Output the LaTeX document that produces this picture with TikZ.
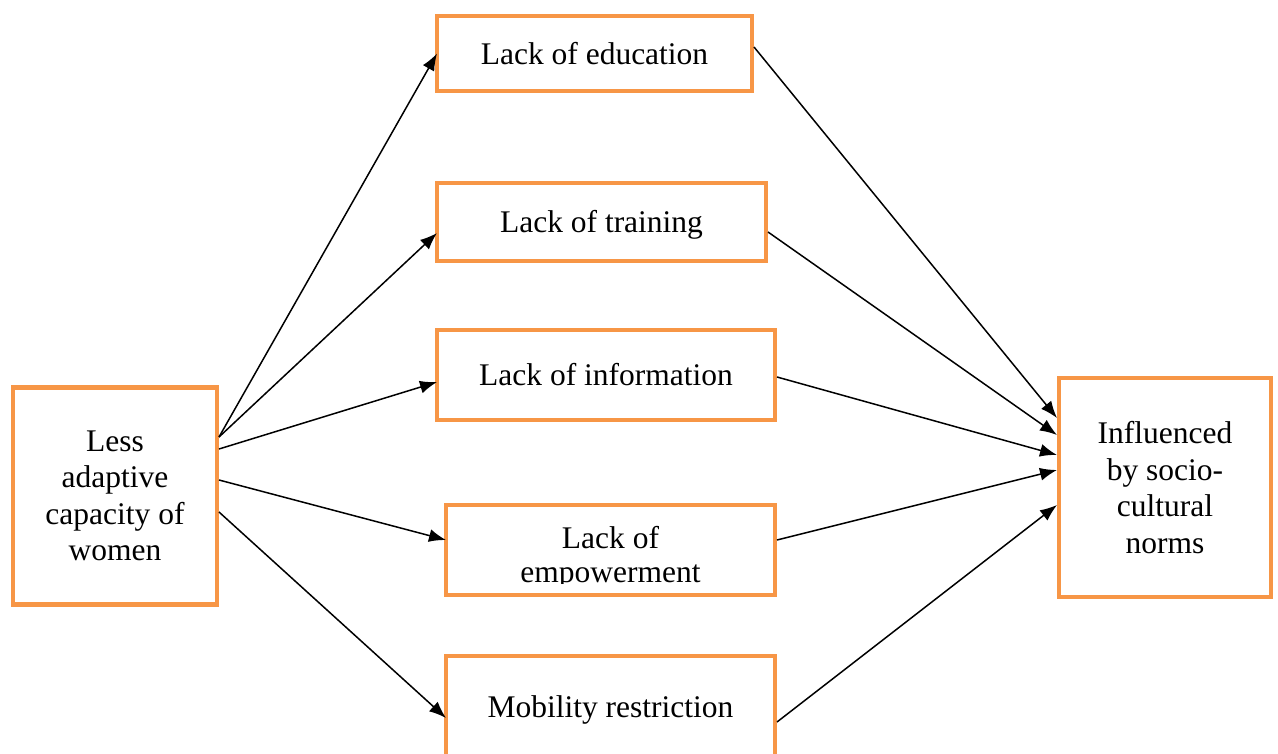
\documentclass[tikz,border=0pt]{standalone}
\usepackage{fontspec}
\setmainfont{Liberation Serif}
\usetikzlibrary{arrows.meta}
\definecolor{boxorange}{HTML}{F79646}
\begin{document}
\begin{tikzpicture}[x=1pt,y=-1pt,
  box/.style={draw=boxorange,line width=4.5pt,rectangle,inner sep=0pt,outer sep=0pt,align=center,
    font=\fontsize{31.5}{36.5}\selectfont},
  oneline/.style={text height=28.5pt,text depth=7pt},
  conn/.style={line width=1.5pt,-{Latex[length=17pt,width=13pt]}}]
\useasboundingbox (0,0) rectangle (1278,754);
\node[box,minimum width=204pt,minimum height=217pt] (L) at (115,496) {Less\\adaptive\\capacity of\\women};
\node[box,oneline,minimum width=315pt,minimum height=75pt] (E) at (594.5,53.5) {Lack of education};
\node[box,oneline,minimum width=329pt,minimum height=78pt] (T) at (601.5,222) {Lack of training};
\node[box,oneline,minimum width=338pt,minimum height=90pt] (I) at (606,375) {Lack of information};
\node[box,minimum width=329pt,minimum height=90pt] (P) at (610.5,550) {};
\begin{scope}
\clip (448,507) rectangle (773,583);
\node[align=center,inner sep=0pt,font=\fontsize{31.5}{34}\selectfont] (Pt) at (610.5,558) {Lack of\\empowerment};
\end{scope}
\node[box,oneline,minimum width=329pt,minimum height=102pt] (M) at (610.5,707) {Mobility restriction};
\node[box,minimum width=212pt,minimum height=219pt] (R) at (1165,487.5) {Influenced\\by socio-\\cultural\\norms};
% left arrows
\draw[conn] ([xshift=2pt,yshift=59pt]L.east) -- (E.west);
\draw[conn] ([xshift=2pt,yshift=59pt]L.east) -- ([yshift=-11pt]T.west);
\draw[conn] ([xshift=2pt,yshift=47pt]L.east) -- ([yshift=-7pt]I.west);
\draw[conn] ([xshift=2pt,yshift=16pt]L.east) -- ([yshift=10pt]P.west);
\draw[conn] ([xshift=2pt,yshift=-16pt]L.east) -- ([yshift=-11pt]M.west);
% right arrows
\draw[conn] ([xshift=2pt,yshift=6.5pt]E.east) -- ([xshift=-2pt,yshift=69.5pt]R.west);
\draw[conn] ([xshift=2pt,yshift=-10pt]T.east) -- ([xshift=-2pt,yshift=52.5pt]R.west);
\draw[conn] ([xshift=2pt,yshift=-2pt]I.east) -- ([xshift=-2pt,yshift=32.5pt]R.west);
\draw[conn] ([xshift=2pt,yshift=10pt]P.east) -- ([xshift=-2pt,yshift=17.5pt]R.west);
\draw[conn] ([xshift=2pt,yshift=-15pt]M.east) -- ([xshift=-2pt,yshift=-17.5pt]R.west);
\end{tikzpicture}
\end{document}
